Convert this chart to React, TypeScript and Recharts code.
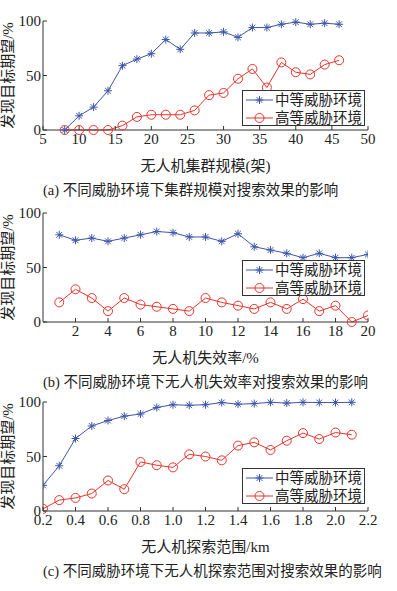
import React from 'react';
import { LineChart, Line, XAxis, YAxis, Label } from 'recharts';

const seriesNames = ['中等威胁环境', '高等威胁环境'];
const yTicks = [0, 50, 100];

// (a) 集群规模
const sizeX = [8, 10, 12, 14, 16, 18, 20, 22, 24, 26, 28, 30, 32, 34, 36, 38, 40, 42, 44, 46];
const sizeMid = [0, 13, 21, 36, 59, 65, 70, 83, 74, 89, 89, 90, 85, 94, 94, 97, 99, 97, 98, 97];
const sizeHigh = [0, 0, 0, 0, 4, 12, 14, 14, 14, 18, 32, 34, 47, 56, 39, 62, 53, 51, 60, 64];
const sizeTicks = [5, 10, 15, 20, 25, 30, 35, 40, 45, 50];

// (b) 失效率
const failX = [1, 2, 3, 4, 5, 6, 7, 8, 9, 10, 11, 12, 13, 14, 15, 16, 17, 18, 19, 20];
const failMid = [80, 75, 77, 74, 77, 80, 83, 82, 78, 78, 74, 81, 69, 66, 63, 59, 63, 59, 59, 62];
const failHigh = [18, 30, 22, 10, 22, 16, 14, 12, 10, 22, 18, 15, 12, 18, 12, 21, 10, 15, 0, 6];
const failTicks = [2, 4, 6, 8, 10, 12, 14, 16, 18, 20];

// (c) 探索范围
const rangeX = [0.2, 0.3, 0.4, 0.5, 0.6, 0.7, 0.8, 0.9, 1.0, 1.1, 1.2, 1.3, 1.4, 1.5, 1.6, 1.7, 1.8, 1.9, 2.0, 2.1];
const rangeMid = [23.5, 41.5, 66.5, 78, 83, 87, 89, 95, 97.5, 97, 97.5, 99.5, 98, 98.5, 99.7, 99, 99.7, 99.5, 99.5, 99.7];
const rangeHigh = [2, 10, 12, 16, 28, 20, 45, 42, 40, 52, 50, 46.5, 60, 63, 56, 64.5, 71.5, 66, 72, 70];
const rangeTicks = [0.2, 0.4, 0.6, 0.8, 1.0, 1.2, 1.4, 1.6, 1.8, 2.0, 2.2];

const BLUE = '#3d57a8';
const RED = '#e5352c';
const AXIS = '#333';
const FONT = "'Liberation Serif', 'Noto Sans CJK SC', serif";

const Star = ({ cx, cy, color }) => {
    const r = 4;
    const d = r * 0.72;
    return (
        <g stroke={color} strokeWidth={1}>
            <line x1={cx - r} y1={cy} x2={cx + r} y2={cy} />
            <line x1={cx} y1={cy - r} x2={cx} y2={cy + r} />
            <line x1={cx - d} y1={cy - d} x2={cx + d} y2={cy + d} />
            <line x1={cx - d} y1={cy + d} x2={cx + d} y2={cy - d} />
        </g>
    );
};

const Ring = ({ cx, cy, color }) => (
    <circle cx={cx} cy={cy} r={4.5} fill="none" stroke={color} strokeWidth={1} />
);

const LegendBox = ({ top }) => (
    <div style={{
        position: 'absolute', left: 242, top, width: 123, height: 36,
        border: `1px solid ${AXIS}`, background: '#fff', boxSizing: 'border-box',
    }}>
        {seriesNames.map((name, i) => (
            <div key={name} style={{ position: 'absolute', left: 0, top: i * 18, height: 18, display: 'flex', alignItems: 'center' }}>
                <svg width={32} height={18}>
                    <line x1={3} y1={9} x2={30} y2={9} stroke={i === 0 ? BLUE : RED} strokeWidth={1} />
                    {i === 0 ? <Star cx={16.5} cy={9} color={BLUE} /> : <Ring cx={16.5} cy={9} color={RED} />}
                </svg>
                <span style={{ fontSize: 14.5, color: '#222', lineHeight: '18px', whiteSpace: 'nowrap' }}>{name}</span>
            </div>
        ))}
    </div>
);

const Panel = ({ top, xs, mid, high, xTicks, xLabel, caption, legendTop, fmt }) => {
    const rows = xs.map((x, i) => ({ x, mid: mid[i], high: high[i] }));
    return (
        <div style={{ position: 'absolute', left: 0, top, width: 397, height: 200 }}>
            <LineChart width={397} height={175} data={rows} margin={{ top: 21, right: 29, left: 0, bottom: 0 }}>
                <XAxis
                    type="number"
                    dataKey="x"
                    domain={[xTicks[0] === 2 ? 0 : xTicks[0], xTicks[xTicks.length - 1]]}
                    ticks={xTicks}
                    interval={0}
                    height={45}
                    tickSize={-4}
                    tickMargin={7}
                    stroke={AXIS}
                    tick={{ fontSize: 15, fill: '#222' }}
                    tickFormatter={fmt}
                    allowDataOverflow
                >
                    <Label value={xLabel} position="insideBottom" offset={4} fontSize={15} fill="#222" />
                </XAxis>
                <YAxis
                    type="number"
                    domain={[0, 100]}
                    ticks={yTicks}
                    width={43}
                    tickSize={-4}
                    tickMargin={6}
                    stroke={AXIS}
                    tick={{ fontSize: 15, fill: '#222' }}
                >
                    <Label value="发现目标期望/%" angle={-90} position="insideLeft" offset={8} fontSize={15} fill="#222" style={{ textAnchor: 'middle' }} />
                </YAxis>
                <Line
                    dataKey="high"
                    stroke={RED}
                    strokeWidth={1}
                    isAnimationActive={false}
                    activeDot={false}
                    dot={(p) => <Ring key={`h${p.index}`} cx={p.cx} cy={p.cy} color={RED} />}
                />
                <Line
                    dataKey="mid"
                    stroke={BLUE}
                    strokeWidth={1}
                    isAnimationActive={false}
                    activeDot={false}
                    dot={(p) => <Star key={`m${p.index}`} cx={p.cx} cy={p.cy} color={BLUE} />}
                />
            </LineChart>
            <LegendBox top={legendTop} />
            <div style={{ position: 'absolute', left: 43, top: 180, fontSize: 14.5, lineHeight: '20px', color: '#222', whiteSpace: 'nowrap' }}>
                {caption}
            </div>
        </div>
    );
};

const App = () => (
    <div style={{ position: 'absolute', left: 0, top: 0, width: 397, height: 591, background: '#fff', fontFamily: FONT }}>
        <Panel top={0} xs={sizeX} mid={sizeMid} high={sizeHigh} xTicks={sizeTicks}
            xLabel="无人机集群规模(架)" caption="(a) 不同威胁环境下集群规模对搜索效果的影响" legendTop={90} />
        <Panel top={192} xs={failX} mid={failMid} high={failHigh} xTicks={failTicks}
            xLabel="无人机失效率/%" caption="(b) 不同威胁环境下无人机失效率对搜索效果的影响" legendTop={68} />
        <Panel top={381} xs={rangeX} mid={rangeMid} high={rangeHigh} xTicks={rangeTicks}
            xLabel="无人机探索范围/km" caption="(c) 不同威胁环境下无人机探索范围对搜索效果的影响" legendTop={87}
            fmt={(v) => v.toFixed(1)} />
    </div>
);

export default App;
